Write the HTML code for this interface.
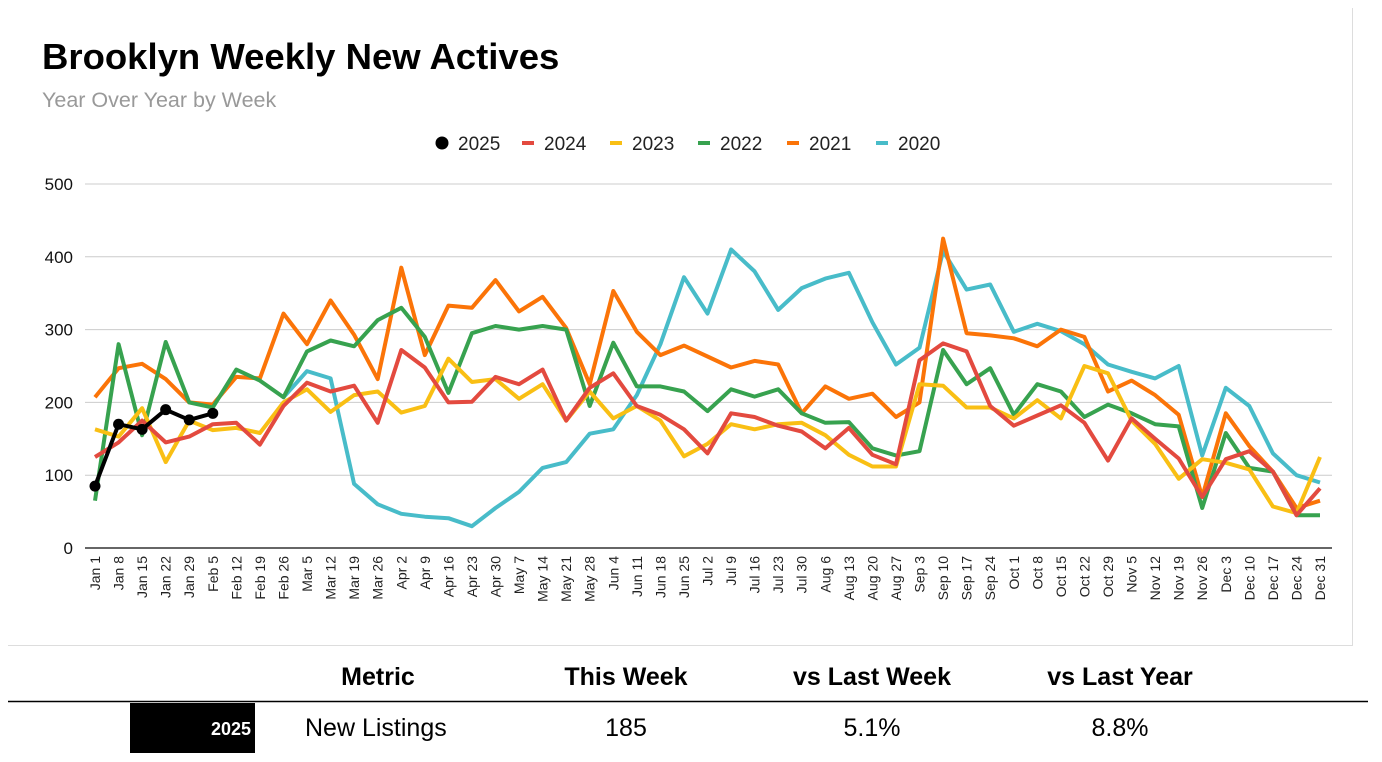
<!DOCTYPE html>
<html><head><meta charset="utf-8"><style>
body{margin:0;background:#fff;font-family:"Liberation Sans",sans-serif;}
#wrap{position:relative;width:1382px;height:762px;overflow:hidden}
.card{position:absolute;left:8px;top:8px;width:1344px;height:637px;border:1px solid #ddd;border-top:none;border-left:none}
</style></head><body><div id="wrap">
<div class="card"></div>
<svg id="s" width="1382" height="762" style="position:absolute;left:0;top:0" font-family="Liberation Sans, sans-serif"></svg>
</div>
<script>
const s=document.getElementById('s');
let h='';
h+='<text x="42" y="69" font-size="36.5" font-weight="bold" fill="#000">Brooklyn Weekly New Actives</text>';
h+='<text x="42" y="107" font-size="21.5" fill="#999">Year Over Year by Week</text>';
const leg=[['2025','#000',442,true],['2024','#e34a3f',528],['2023','#f9bf14',616],['2022','#37a24f',704],['2021','#fb7408',793],['2020','#48bcc9',882]];
leg.forEach(l=>{
 if(l[3]) h+=`<circle cx="${l[2]}" cy="143" r="6.5" fill="#000"/>`;
 else h+=`<line x1="${l[2]-6}" y1="143" x2="${l[2]+6}" y2="143" stroke="${l[1]}" stroke-width="4"/>`;
 h+=`<text x="${l[2]+16}" y="150" font-size="19" fill="#222">${l[0]}</text>`;
});
const Y=v=>548-v*0.728, X=i=>95+i*23.558;
for(let v=0;v<=500;v+=100){
 h+=`<line x1="85" x2="1332" y1="${Y(v)}" y2="${Y(v)}" stroke="${v?'#ccc':'#333'}" stroke-width="${v?1:1.5}"/>`;
 h+=`<text x="73" y="${Y(v)+6}" font-size="17" text-anchor="end" fill="#111">${v}</text>`;
}
const mon=['Jan','Feb','Mar','Apr','May','Jun','Jul','Aug','Sep','Oct','Nov','Dec'];
let d=new Date(2025,0,1);
for(let i=0;i<53;i++){
 const lab=mon[d.getMonth()]+' '+d.getDate();
 h+=`<text transform="translate(${X(i)+5},556) rotate(-90)" font-size="14" text-anchor="end" fill="#222">${lab}</text>`;
 d.setDate(d.getDate()+7);
}
const ser=[
['#48bcc9',8,[207,243,233,88,60,47,43,41,30,55,77,110,118,157,163,210,280,372,322,410,380,327,357,370,378,310,252,275,408,355,362,297,308,298,280,252,242,233,250,127,220,195,130,100,90]],
['#fb7408',0,[207,247,253,232,200,197,235,233,322,280,340,293,232,385,265,333,330,368,325,345,302,225,353,297,265,278,263,248,257,252,185,222,205,212,180,200,425,295,292,288,277,300,290,215,230,210,183,70,185,140,105,55,65]],
['#37a24f',0,[65,280,155,283,200,193,245,230,207,270,285,277,313,330,290,213,295,305,300,305,300,195,282,222,222,215,188,218,208,218,185,172,173,137,127,133,272,225,247,183,225,215,180,197,185,170,167,55,158,110,105,45,45]],
['#f9bf14',0,[163,153,192,118,175,162,165,158,200,218,187,210,215,186,195,260,228,232,205,225,175,215,178,195,175,126,143,170,163,170,172,155,128,112,112,225,223,193,193,178,203,178,250,240,175,143,95,122,117,108,57,48,125]],
['#e34a3f',0,[125,145,175,145,153,170,172,142,195,227,215,223,172,272,248,200,201,235,225,245,175,220,240,195,183,163,130,185,180,168,160,137,165,128,115,258,281,270,195,168,182,196,172,120,178,150,123,70,122,133,105,45,82]],
['#000',0,[85,170,163,190,176,185]]];
ser.forEach(([c,o,v])=>{
 const p=v.map((a,i)=>X(i+o).toFixed(1)+','+Y(a).toFixed(1)).join(' ');
 h+=`<polyline points="${p}" fill="none" stroke="${c}" stroke-width="4" stroke-linejoin="round"/>`;
});
[85,170,163,190,176,185].forEach((a,i)=>h+=`<circle cx="${X(i)}" cy="${Y(a)}" r="5.5" fill="#000"/>`);
[['Metric',378],['This Week',626],['vs Last Week',872],['vs Last Year',1120]].forEach(t=>h+=`<text x="${t[1]}" y="685" font-size="25" font-weight="bold" text-anchor="middle" fill="#000">${t[0]}</text>`);
h+='<line x1="8" x2="1368" y1="701.5" y2="701.5" stroke="#000" stroke-width="1.5"/>';
h+='<rect x="130" y="703" width="125" height="50" fill="#000"/>';
h+='<text x="251" y="735" font-size="18" font-weight="bold" text-anchor="end" fill="#fff">2025</text>';
h+='<text x="305" y="736" font-size="25" fill="#000">New Listings</text>';
[['185',626],['5.1%',872],['8.8%',1120]].forEach(t=>h+=`<text x="${t[1]}" y="736" font-size="25" text-anchor="middle" fill="#000">${t[0]}</text>`);
s.innerHTML=h;
</script>
</body></html>
